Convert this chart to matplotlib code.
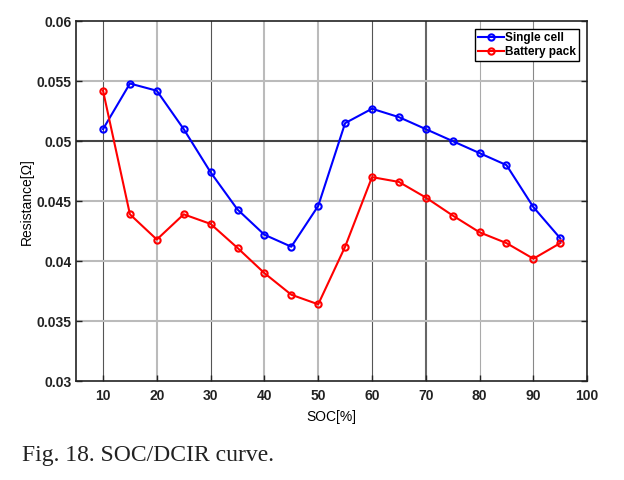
import matplotlib
matplotlib.use('Agg')
import matplotlib.pyplot as plt

soc = [10, 15, 20, 25, 30, 35, 40, 45, 50, 55, 60, 65, 70, 75, 80, 85, 90, 95]
single_cell = [0.0510, 0.0548, 0.0542, 0.0510, 0.0474, 0.0443, 0.0422, 0.0412, 0.0446,
               0.0515, 0.0527, 0.0520, 0.0510, 0.0500, 0.0490, 0.0480, 0.0445, 0.0419]
battery_pack = [0.0542, 0.0439, 0.0418, 0.0439, 0.0431, 0.0411, 0.0390, 0.0372, 0.0364,
                0.0412, 0.0470, 0.0466, 0.0453, 0.0438, 0.0424, 0.0415, 0.0402, 0.0415]

xticks = [10, 20, 30, 40, 50, 60, 70, 80, 90, 100]
yticks = [0.03, 0.035, 0.04, 0.045, 0.05, 0.055, 0.06]
ytick_labels = ['0.03', '0.035', '0.04', '0.045', '0.05', '0.055', '0.06']

plt.rcParams['font.family'] = ['Liberation Sans', 'DejaVu Sans']

fig = plt.figure(figsize=(6.24, 4.8), dpi=100)
ax = fig.add_axes([0.122, 0.206, 0.819, 0.75])

# scanned-looking grid: some lines darker than others
vgrid = {10: ('#555555', 0.8), 20: ('#bbbbbb', 1.5), 30: ('#555555', 0.8),
         40: ('#bbbbbb', 1.5), 50: ('#bbbbbb', 1.5), 60: ('#555555', 0.8),
         70: ('#666666', 1.5), 80: ('#aaaaaa', 0.8), 90: ('#888888', 0.8)}
for xv, (c, lw) in vgrid.items():
    ax.axvline(xv, color=c, lw=lw, zorder=0)
for yv in [0.035, 0.04, 0.045, 0.055]:
    ax.axhline(yv, color='#bbbbbb', lw=1.5, zorder=0)
ax.axhline(0.05, color='#444444', lw=1.5, zorder=0)

ax.plot(soc, single_cell, color='blue', marker='o', markersize=4.5, mfc='none',
        mew=1.5, lw=1.5, label='Single cell')
ax.plot(soc, battery_pack, color='red', marker='o', markersize=4.5, mfc='none',
        mew=1.5, lw=1.5, label='Battery pack')

ax.set_xlim(5, 100)
ax.set_ylim(0.03, 0.06)
ax.set_xticks(xticks)
ax.set_yticks(yticks)
ax.set_yticklabels(ytick_labels)
ax.tick_params(direction='in', length=4, labelsize=10, width=1, colors='#222222',
               right=True)
ax.tick_params(axis='x', pad=6)
for lab in ax.get_xticklabels() + ax.get_yticklabels():
    lab.set_fontweight('bold')
for s in ax.spines.values():
    s.set_linewidth(1.2)
    s.set_color('#222222')

ax.set_xlabel('SOC[%]', fontsize=10, labelpad=5)
ax.set_ylabel('Resistance[\u03a9]', fontsize=10, labelpad=2)

leg = ax.legend(loc='upper right', fontsize=8.5, fancybox=False, framealpha=1,
                edgecolor='black', borderpad=0.25, handlelength=2.2,
                handletextpad=0.1, labelspacing=0.15, borderaxespad=0.7)
for t in leg.get_texts():
    t.set_fontweight('bold')
leg.get_frame().set_linewidth(1.0)

fig.text(0.035, 0.04, 'Fig. 18. SOC/DCIR curve.', fontsize=17,
         family=['Liberation Serif', 'DejaVu Serif'], color='#222222')

fig.savefig('out.png', dpi=100)
